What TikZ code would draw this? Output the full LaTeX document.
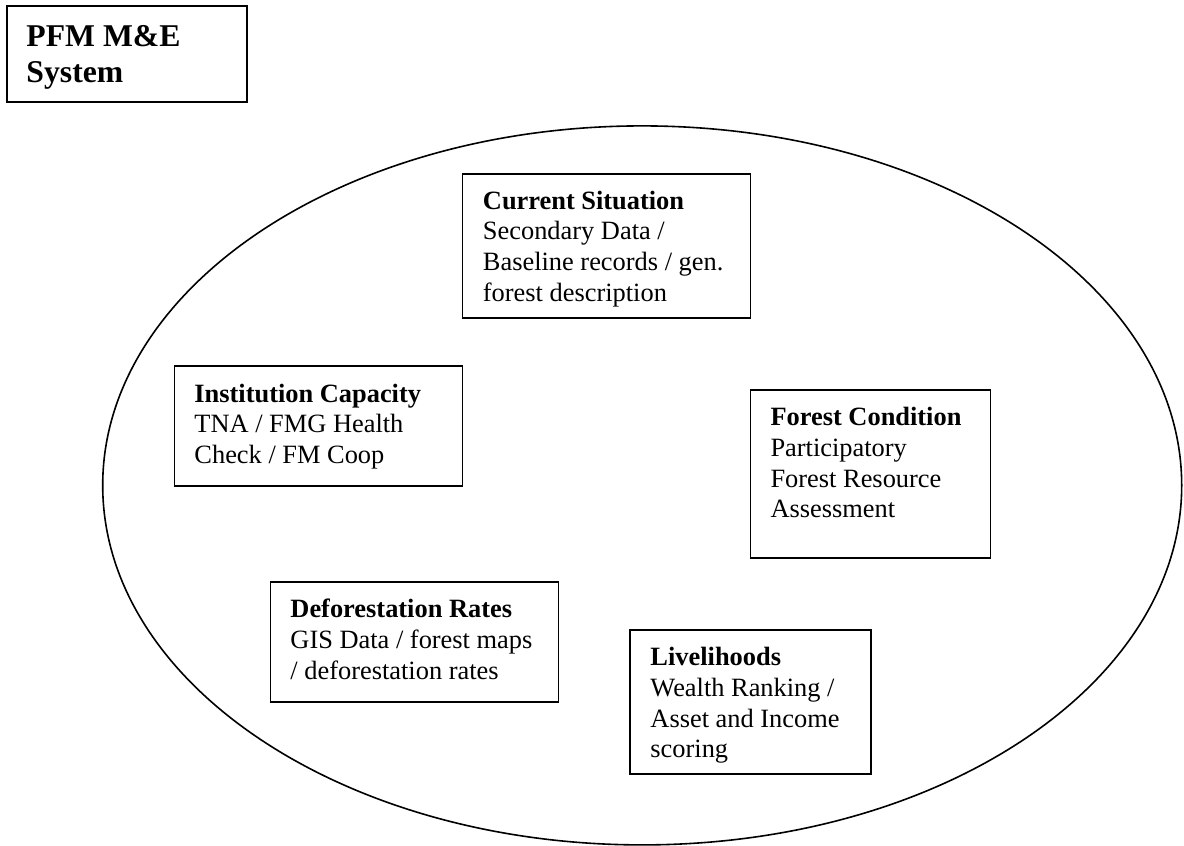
\documentclass[tikz,border=0pt]{standalone}
\usepackage{fontspec}
\setmainfont{Liberation Serif}
\usetikzlibrary{shapes.geometric}
\tikzset{
  box/.style={draw, line width=1.5pt, rectangle, inner sep=0pt, fill=white},
  txt/.style={inner sep=0pt, anchor=base west},
  oval/.style={draw, line width=1.6pt, ellipse, inner sep=0pt}
}
\newcommand{\bodytext}[1]{\parbox[t]{320pt}{\fontsize{26.4}{30.7}\selectfont\raggedright #1}}
\begin{document}
\begin{tikzpicture}[x=1pt,y=-1pt]
\useasboundingbox (0,0) rectangle (1184,846);
% title
\node[box, minimum width=240pt, minimum height=96pt] (tb) at (127,54) {};
\node[txt] (tt) at ([xshift=20pt,yshift=-41pt]tb.north west)
  {\parbox[t]{220pt}{\fontsize{31.7}{36.3}\selectfont\bfseries PFM M\&E\\ System}};
% big ellipse
\node[oval, minimum width=1079pt, minimum height=719pt] (el) at (642.2,485.4) {};
% current situation
\node[box, minimum width=288pt, minimum height=144pt] (cs) at (606.5,246) {};
\node[txt] (cst) at ([xshift=21pt,yshift=-36pt]cs.north west)
  {\bodytext{\textbf{Current Situation}\\ Secondary Data /\\ Baseline records / gen.\\ forest description}};
% institution capacity
\node[box, minimum width=288pt, minimum height=120pt] (ic) at (318.5,426) {};
\node[txt] (ict) at ([xshift=20.5pt,yshift=-37pt]ic.north west)
  {\bodytext{\textbf{Institution Capacity}\\ TNA / FMG Health\\ Check / FM Coop}};
% forest condition
\node[box, minimum width=240pt, minimum height=168pt] (fc) at (870.6,474) {};
\node[txt] (fct) at ([xshift=20.5pt,yshift=-36.5pt]fc.north west)
  {\bodytext{\textbf{Forest Condition}\\ Participatory\\ Forest Resource\\ Assessment}};
% deforestation rates
\node[box, minimum width=288pt, minimum height=120pt] (dr) at (414.5,642) {};
\node[txt] (drt) at ([xshift=20.5pt,yshift=-36.5pt]dr.north west)
  {\bodytext{\textbf{Deforestation Rates}\\ GIS Data / forest maps\\ / deforestation rates}};
% livelihoods
\node[box, minimum width=241pt, minimum height=144pt] (lh) at (750.5,702) {};
\node[txt] (lht) at ([xshift=21pt,yshift=-36.5pt]lh.north west)
  {\bodytext{\textbf{Livelihoods}\\ Wealth Ranking /\\ Asset and Income\\ scoring}};
\end{tikzpicture}
\end{document}
